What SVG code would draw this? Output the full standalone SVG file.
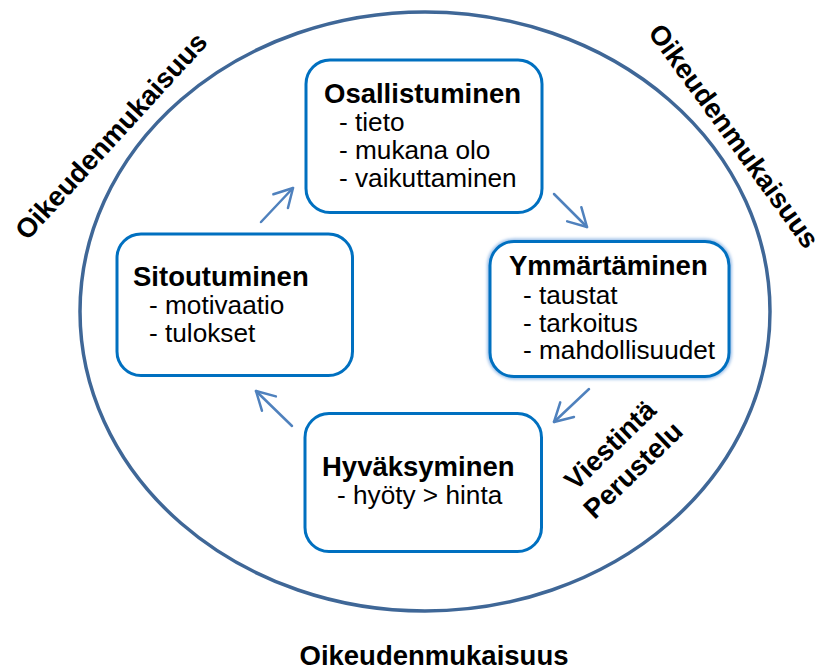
<svg xmlns="http://www.w3.org/2000/svg" width="821" height="671" viewBox="0 0 821 671">
  <defs>
    <style>
      text { font-family: "Liberation Sans", Arial, sans-serif; fill: #000; }
      .title { font-size: 27.5px; font-weight: bold; }
      .item { font-size: 26.2px; }
      .big { font-size: 27.5px; font-weight: bold; }
      .box { fill: #fff; stroke: #0070c0; stroke-width: 3; }
      .ring { fill: none; stroke: #3f6797; stroke-width: 3.5; }
      .arrow { fill: none; stroke: #4f81bd; stroke-width: 2.5; stroke-linecap: round; stroke-linejoin: round; marker-end: url(#open); }
    </style>
    <marker id="open" markerUnits="userSpaceOnUse" orient="auto" refX="0" refY="0" markerWidth="40" markerHeight="40" viewBox="-25 -20 40 40" overflow="visible">
      <path d="M -18,-10 L 0,0 L -18,10" fill="none" stroke="#4f81bd" stroke-width="2.5" stroke-linecap="round" stroke-linejoin="round"/>
    </marker>
    <filter id="glow" x="-10%" y="-10%" width="120%" height="120%">
      <feGaussianBlur stdDeviation="1.8"/>
    </filter>
  </defs>

  <rect width="821" height="671" fill="#fff"/>

  <g id="ring">
    <ellipse class="ring" cx="425" cy="311.5" rx="345" ry="299.5"/>
  </g>

  <g id="labels">
    <text class="big" text-anchor="middle" transform="translate(111,136) rotate(-47.5)" x="0" y="9.5">Oikeudenmukaisuus</text>
    <text class="big" text-anchor="middle" transform="translate(734,136) rotate(54)" x="0" y="9.5">Oikeudenmukaisuus</text>
    <text class="big" text-anchor="middle" x="434" y="665">Oikeudenmukaisuus</text>
    <text class="big" text-anchor="middle" transform="translate(610,445) rotate(-44)" x="0" y="9.5">Viestintä</text>
    <text class="big" text-anchor="middle" transform="translate(633,470) rotate(-44)" x="0" y="9.5">Perustelu</text>
  </g>

  <g id="connectors">
    <path class="arrow" d="M 261,222 L 293,188"/>
    <path class="arrow" d="M 554,194 L 587,227"/>
    <path class="arrow" d="M 589,389 L 554,422"/>
    <path class="arrow" d="M 292,426 L 256,391"/>
  </g>

  <g id="osallistuminen">
    <rect class="box" x="306" y="60" width="236" height="152.5" rx="24"/>
    <text class="title" x="324" y="103">Osallistuminen</text>
    <text class="item" x="339" y="131">- tieto</text>
    <text class="item" x="339" y="159">- mukana olo</text>
    <text class="item" x="339" y="187">- vaikuttaminen</text>
  </g>

  <g id="sitoutuminen">
    <rect class="box" x="117" y="234" width="235.5" height="141.5" rx="24"/>
    <text class="title" x="133" y="286">Sitoutuminen</text>
    <text class="item" x="149" y="314">- motivaatio</text>
    <text class="item" x="149" y="342">- tulokset</text>
  </g>

  <g id="ymmartaminen">
    <rect x="490" y="241.5" width="239" height="135" rx="24" fill="none" stroke="#9dc0e8" stroke-width="6" filter="url(#glow)"/>
    <rect class="box" x="490" y="241.5" width="239" height="135" rx="24"/>
    <text class="title" x="509" y="275">Ymmärtäminen</text>
    <text class="item" x="523" y="304">- taustat</text>
    <text class="item" x="523" y="331.5">- tarkoitus</text>
    <text class="item" x="523" y="358.5">- mahdollisuudet</text>
  </g>

  <g id="hyvaksyminen">
    <rect class="box" x="305" y="413.5" width="236.5" height="138" rx="24"/>
    <text class="title" x="322" y="476">Hyväksyminen</text>
    <text class="item" x="337" y="504">- hyöty &gt; hinta</text>
  </g>
</svg>
